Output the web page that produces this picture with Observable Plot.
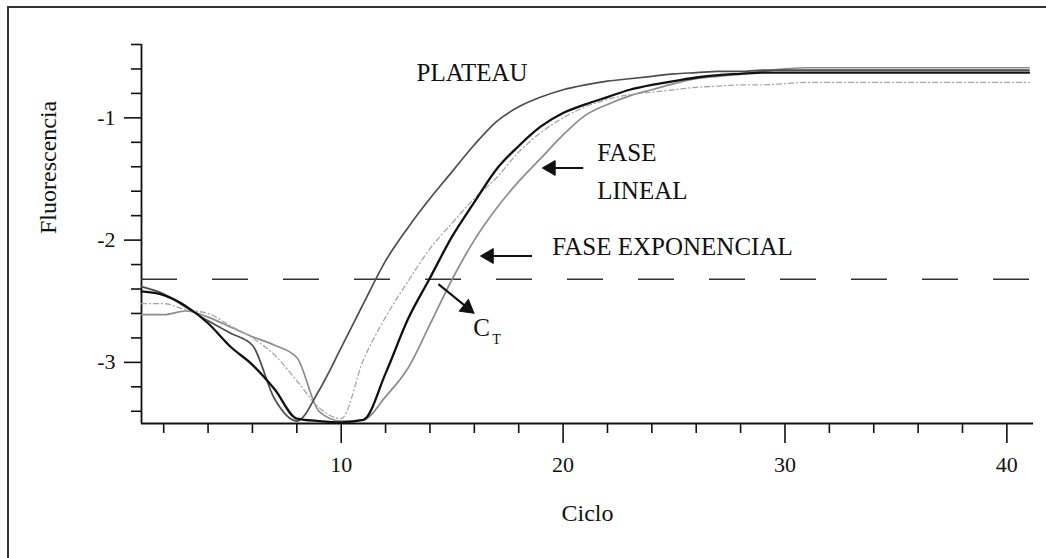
<!DOCTYPE html>
<html>
<head>
<meta charset="utf-8">
<script src="https://cdn.jsdelivr.net/npm/d3@7"></script>
<script src="https://cdn.jsdelivr.net/npm/@observablehq/plot@0.6"></script>
<style>
  html, body { margin: 0; padding: 0; background: #fff; }
  #wrap { position: relative; width: 1046px; height: 558px; overflow: hidden; }
  #frame { position: absolute; left: 7px; top: 6px; width: 1100px; height: 600px;
           border-left: 2px solid #333; border-top: 2px solid #333; pointer-events: none; }
</style>
</head>
<body>
<div id="wrap"><div id="frame"></div></div>
<script>
// PCR amplification cycles
const cycles = [1,2,3,4,5,6,7,8,9,10,11,12,13,14,15,16,17,18,19,20,
                21,22,23,24,25,26,27,28,29,30,31,32,33,34,35,36,37,38,39,40,41];

// Fluorescence readings of the four amplification curves
const sampleA = [-2.38,-2.44,-2.55,-2.66,-2.76,-2.86,-3.30,-3.48,-3.23,-2.88,
                 -2.52,-2.17,-1.90,-1.66,-1.44,-1.22,-1.03,-0.91,-0.83,-0.77,
                 -0.73,-0.70,-0.68,-0.66,-0.64,-0.63,-0.62,-0.62,-0.61,-0.61,
                 -0.61,-0.61,-0.61,-0.61,-0.61,-0.61,-0.61,-0.61,-0.61,-0.61,-0.61];
const sampleB = [-2.52,-2.52,-2.57,-2.60,-2.70,-2.80,-2.94,-3.15,-3.37,-3.46,
                 -2.98,-2.63,-2.34,-2.07,-1.86,-1.66,-1.49,-1.28,-1.12,-1.00,
                 -0.91,-0.85,-0.81,-0.79,-0.77,-0.75,-0.74,-0.73,-0.73,-0.72,
                 -0.71,-0.71,-0.71,-0.71,-0.71,-0.71,-0.71,-0.71,-0.71,-0.71,-0.71];
const sampleC = [-2.42,-2.45,-2.54,-2.68,-2.87,-3.02,-3.22,-3.46,-3.48,-3.49,
                 -3.47,-3.09,-2.65,-2.31,-1.97,-1.69,-1.42,-1.23,-1.07,-0.96,
                 -0.89,-0.83,-0.77,-0.73,-0.70,-0.67,-0.65,-0.64,-0.63,-0.63,
                 -0.63,-0.63,-0.63,-0.63,-0.63,-0.63,-0.63,-0.63,-0.63,-0.63,-0.63];
const sampleD = [-2.61,-2.61,-2.58,-2.63,-2.71,-2.79,-2.86,-2.96,-3.40,-3.48,
                 -3.47,-3.28,-3.05,-2.69,-2.32,-2.00,-1.74,-1.52,-1.33,-1.14,
                 -0.98,-0.89,-0.82,-0.77,-0.72,-0.68,-0.66,-0.64,-0.62,-0.60,
                 -0.59,-0.59,-0.59,-0.59,-0.59,-0.59,-0.59,-0.59,-0.59,-0.59,-0.59];

// Detection threshold used to read the C_T
const threshold = -2.32;

// Axis ticks
const xMajorTicks = [10, 20, 30, 40];
const xMinorTicks = [2,4,6,8,12,14,16,18,22,24,26,28,32,34,36,38];
const yMajorTicks = [-1, -2, -3];
const yMinorTicks = [-0.4,-0.6,-0.8,-1.2,-1.4,-1.6,-1.8,-2.2,-2.4,-2.6,-2.8,-3.2,-3.4];

// Pointer arrows (tail -> tip) next to the phase labels
const pointers = [
  {x1: 20.91, y1: -1.41, x2: 19.55, y2: -1.41, angle: -90},
  {x1: 18.60, y1: -2.13, x2: 16.76, y2: -2.13, angle: -90},
  {x1: 14.38, y1: -2.36, x2: 15.60, y2: -2.54, angle: 128}
];
const tips = [
  {x: 19.45, y: -1.41, angle: -90},
  {x: 16.66, y: -2.13, angle: -90},
  {x: 15.68, y: -2.555, angle: 128}
];

const toRows = (values) => cycles.map((c, i) => ({cycle: c, value: values[i]}));

const serif = "Liberation Serif";
const ink = "#111";

const chart = Plot.plot({
  width: 1046,
  height: 558,
  marginLeft: 141,
  marginRight: 13,
  marginTop: 44,
  marginBottom: 135,
  style: {fontFamily: serif, background: "transparent", color: ink},
  x: {domain: [1, 41.2]},
  y: {domain: [-3.5, -0.4]},
  marks: [
    // axis lines
    Plot.ruleX([1], {stroke: ink, strokeWidth: 1.8}),
    Plot.ruleY([-3.5], {stroke: ink, strokeWidth: 1.8}),
    // ticks and labels
    Plot.axisY(yMajorTicks, {tickSize: 17, tickPadding: 9, fontSize: 22, stroke: ink, strokeWidth: 1.6,
                             fill: ink, label: null, tickFormat: d => String(d), fontFamily: serif}),
    Plot.axisY(yMinorTicks, {tickSize: 10, stroke: ink, strokeWidth: 1.6, label: null, tickFormat: () => ""}),
    Plot.axisX(xMajorTicks, {tickSize: 20, tickPadding: 13, fontSize: 22, stroke: ink, strokeWidth: 1.6,
                             fill: ink, label: null, tickFormat: d => String(d), fontFamily: serif}),
    Plot.axisX(xMinorTicks, {tickSize: 10, stroke: ink, strokeWidth: 1.6, label: null, tickFormat: () => ""}),
    // axis titles
    Plot.text(["Ciclo"], {frameAnchor: "bottom", dy: 97, fontSize: 24, fill: ink, fontFamily: serif}),
    Plot.text(["Fluorescencia"], {frameAnchor: "left", dx: -93, rotate: -90, fontSize: 24, fill: ink, fontFamily: serif}),
    // threshold
    Plot.ruleY([threshold], {stroke: "#333", strokeWidth: 1.6, strokeDasharray: "36,35"}),
    // amplification curves
    Plot.line(toRows(sampleD), {x: "cycle", y: "value", stroke: "#8c8c8c", strokeWidth: 1.7, curve: "monotone-x"}),
    Plot.line(toRows(sampleB), {x: "cycle", y: "value", stroke: "#a6a6a6", strokeWidth: 1.3,
                                strokeDasharray: "5,3,1,3", curve: "monotone-x"}),
    Plot.line(toRows(sampleA), {x: "cycle", y: "value", stroke: "#4d4d4d", strokeWidth: 1.7, curve: "monotone-x"}),
    Plot.line(toRows(sampleC), {x: "cycle", y: "value", stroke: ink, strokeWidth: 2.3, curve: "monotone-x"}),
    // phase annotations
    Plot.text(["PLATEAU"], {x: 15.9, y: -0.63, fontSize: 25, fill: ink, fontFamily: serif}),
    Plot.text(["FASE"], {x: 21.54, y: -1.29, textAnchor: "start", fontSize: 25, fill: ink, fontFamily: serif}),
    Plot.text(["LINEAL"], {x: 21.54, y: -1.60, textAnchor: "start", fontSize: 25, fill: ink, fontFamily: serif}),
    Plot.text(["FASE EXPONENCIAL"], {x: 19.51, y: -2.06, textAnchor: "start", fontSize: 25, fill: ink, fontFamily: serif}),
    Plot.text(["C"], {x: 15.95, y: -2.72, textAnchor: "start", fontSize: 25, fill: ink, fontFamily: serif}),
    Plot.text(["T"], {x: 16.81, y: -2.81, textAnchor: "start", fontSize: 14, fill: ink, fontFamily: serif}),
    Plot.link(pointers, {x1: "x1", y1: "y1", x2: "x2", y2: "y2", stroke: ink, strokeWidth: 2}),
    Plot.dot(tips, {x: "x", y: "y", rotate: "angle", symbol: "triangle", r: 5.5, fill: ink, stroke: ink, strokeWidth: 1})
  ]
});

chart.style.position = "absolute";
chart.style.left = "0px";
chart.style.top = "0px";
document.getElementById("wrap").prepend(chart);
</script>
</body>
</html>
